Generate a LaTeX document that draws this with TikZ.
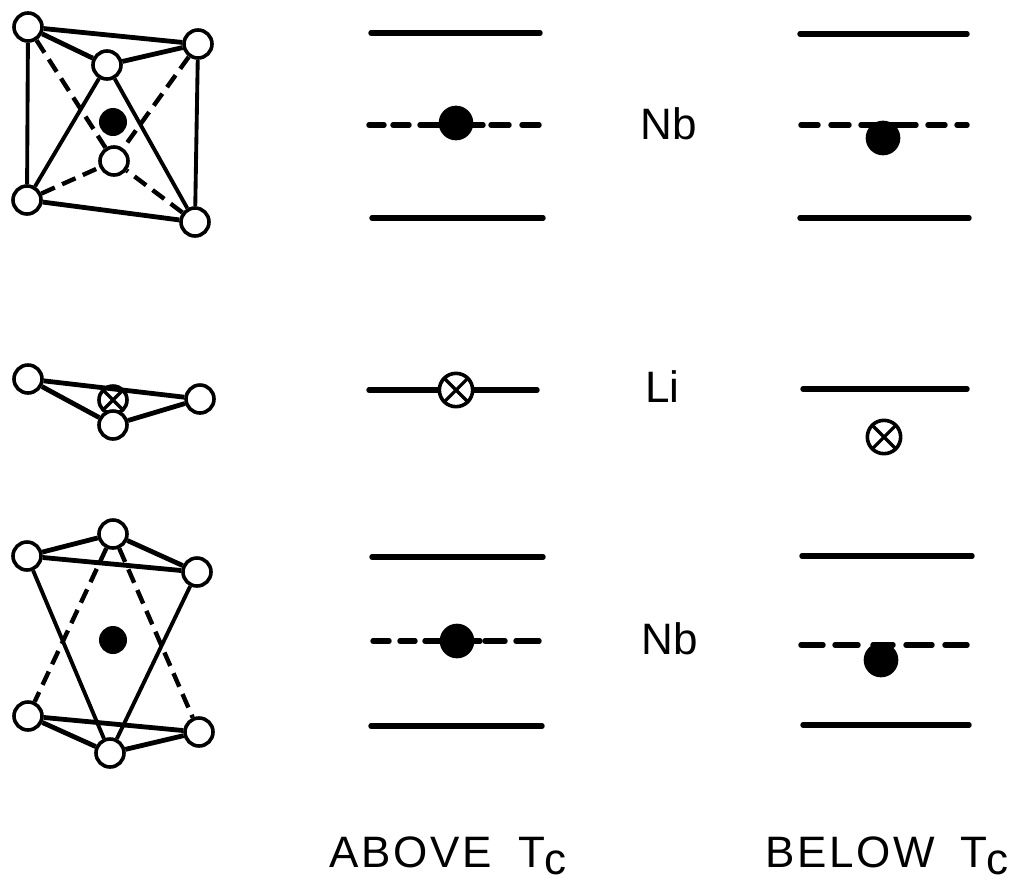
\documentclass[tikz,border=0pt]{standalone}
\usepackage{fontspec}
\setmainfont{Liberation Sans}
\newfontfamily\capfont[LetterSpace=6]{Liberation Sans}
\usetikzlibrary{backgrounds}
\tikzset{
  x=0.75pt,y=-0.75pt,
  atom/.style={circle,draw=black,fill=white,line width=2.7pt,minimum size=21pt,inner sep=0pt},
  smalldot/.style={circle,fill=black,draw=none,minimum size=21pt,inner sep=0pt},
  bigdot/.style={circle,fill=black,draw=none,minimum size=26pt,inner sep=0pt},
  crossed/.style={circle,draw=black,fill=white,line width=2.7pt,inner sep=0pt,path picture={
     \draw[line width=2.4pt] (path picture bounding box.north west) -- (path picture bounding box.south east)
       (path picture bounding box.north east) -- (path picture bounding box.south west);}},
  smallx/.style={crossed,minimum size=21pt},
  bigx/.style={crossed,minimum size=25pt},
  thick bond/.style={line width=3.6pt,draw=black},
  thin bond/.style={line width=2.9pt,draw=black},
  hidden/.style={line width=3.3pt,draw=black,dash pattern=on 11pt off 6pt},
  level/.style={line width=4.1pt,draw=black,line cap=round},
  dashseg/.style={line width=4.1pt,draw=black,line cap=round},
  lab/.style={font=\fontsize{33pt}{36pt}\selectfont,inner sep=0pt,text=black,anchor=base west},
  caption/.style={font=\capfont\fontsize{33pt}{36pt}\selectfont,inner sep=0pt,text=black,anchor=base west},
}
\newcommand{\Tc}{T\raisebox{-5.5pt}{c}}
\begin{document}
\begin{tikzpicture}
\useasboundingbox (0,0) rectangle (1013,879);
% upper octahedron
\node[atom] (a1) at (28,27) {};
\node[atom] (a2) at (198,44) {};
\node[atom] (a3) at (107,65) {};
\node[atom] (a4) at (114,161) {};
\node[atom] (a5) at (27,200) {};
\node[atom] (a6) at (195,222) {};
\node[smalldot] (nb1) at (113,122) {};
\begin{scope}[on background layer]
\draw[thick bond] (a1) -- (a2);
\draw[thick bond] (a1) -- (a3);
\draw[thick bond] (a3) -- (a2);
\draw[thick bond] (a5) -- (a6);
\draw[thin bond] (a1) -- (a5);
\draw[thin bond] (a2) -- (a6);
\draw[thin bond] (a3) -- (a5);
\draw[thin bond] (a3) -- (a6);
\draw[hidden] (a1) -- (a4);
\draw[hidden] (a2) -- (a4);
\draw[hidden] (a5) -- (a4);
\draw[hidden] (a6) -- (a4);
\end{scope}
% Li triangle
\node[atom] (b1) at (28,379) {};
\node[atom] (b2) at (200,399) {};
\node[atom] (b3) at (113,425) {};
\begin{scope}[on background layer]
\node[smallx] (lix) at (113,400) {};
\draw[thick bond] (b1) -- (b2);
\draw[thick bond] (b1) -- (b3);
\draw[thick bond] (b3) -- (b2);
\end{scope}
% lower octahedron
\node[atom] (c1) at (27,556) {};
\node[atom] (c2) at (113,534) {};
\node[atom] (c3) at (197,572) {};
\node[atom] (c4) at (28,716) {};
\node[atom] (c5) at (110,753) {};
\node[atom] (c6) at (199,732) {};
\node[smalldot] (nb2) at (113,640) {};
\begin{scope}[on background layer]
\draw[thick bond] (c1) -- (c2);
\draw[thick bond] (c1) -- (c3);
\draw[thick bond] (c2) -- (c3);
\draw[thick bond] (c4) -- (c6);
\draw[thick bond] (c4) -- (c5);
\draw[thick bond] (c5) -- (c6);
\draw[thin bond] (c1) -- (c5);
\draw[thin bond] (c3) -- (c5);
\draw[hidden] (c2) -- (c4);
\draw[hidden] (c2) -- (c6);
\end{scope}
% above Tc: solid levels
\draw[level] (371,33) -- (540,33);
\draw[level] (372,218) -- (543,218);
\draw[level] (372,557) -- (543,557);
\draw[level] (371,726) -- (542,726);
\draw[level] (369,390) -- (537,390);
% above Tc: dashed levels
\foreach \p/\q in {369/384,393/409,420/483,491/509,522/539}
  \draw[dashseg] (\p,125) -- (\q,125);
\foreach \p/\q in {373/389,400/415,425/480,485/505,516/539}
  \draw[dashseg] (\p,641) -- (\q,641);
\node[bigdot] (d1) at (456,123) {};
\node[bigx] (x1) at (456,390) {};
\node[bigdot] (d2) at (457,641) {};
% below Tc: solid levels
\draw[level] (800,34) -- (967,34);
\draw[level] (800,218) -- (969,218);
\draw[level] (803,389) -- (967,389);
\draw[level] (802,556) -- (972,556);
\draw[level] (803,725) -- (969,725);
% below Tc: dashed levels
\foreach \p/\q in {801/818,831/849,861/916,928/945,957/967}
  \draw[dashseg] (\p,125) -- (\q,125);
\foreach \p/\q in {801/823,835/858,873/893,906/932,945/967}
  \draw[dashseg] (\p,645) -- (\q,645);
\node[bigdot] (d3) at (883,138) {};
\node[bigx] (x2) at (884,437) {};
\node[bigdot] (d4) at (881,660) {};
% labels
\node[lab] (l1) at (640,139) {Nb};
\node[lab] (l2) at (645,402) {Li};
\node[lab] (l3) at (641,654) {Nb};
\node[caption] (t1) at (329,867) {ABOVE\hspace{20pt}\Tc};
\node[caption] (t2) at (765,867) {BELOW\hspace{19pt}\Tc};
\end{tikzpicture}
\end{document}
